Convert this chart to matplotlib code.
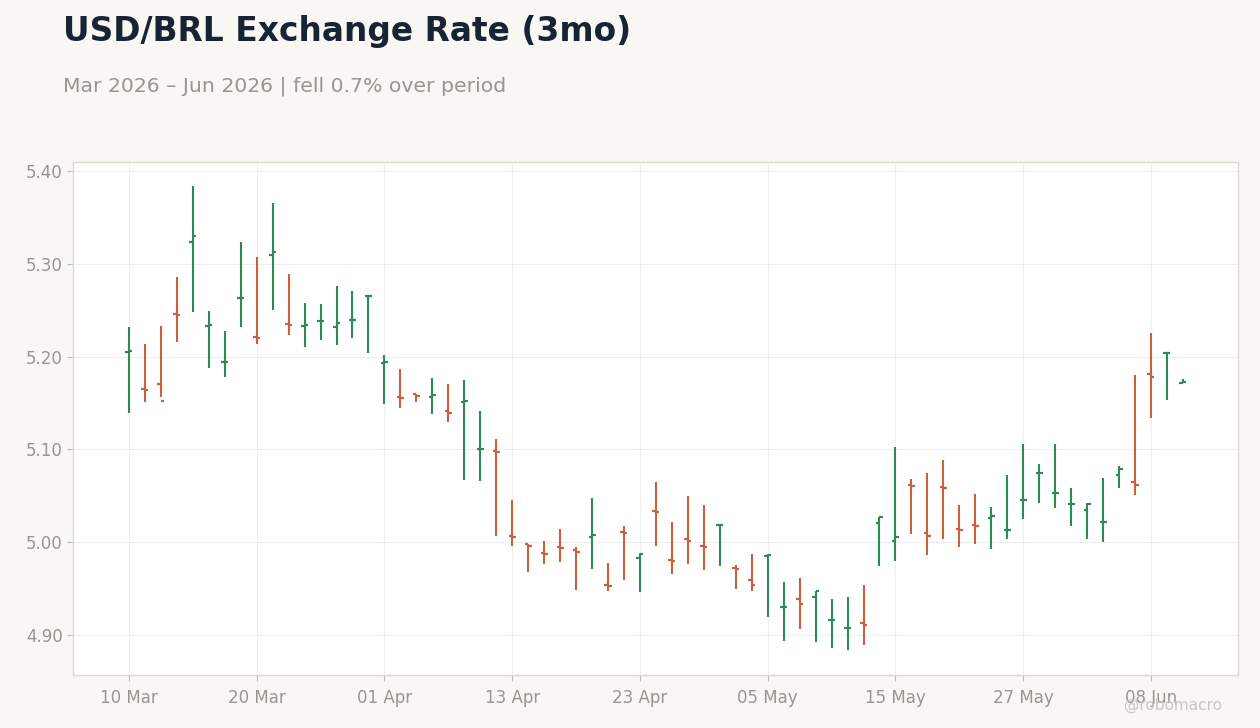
import pandas as pd
import matplotlib.pyplot as plt
import numpy as np

# daily OHLC, USD/BRL, business days 10 Mar - 10 Jun 2026
opens = [5.205, 5.165, 5.170, 5.246, 5.323, 5.233, 5.194, 5.263, 5.221, 5.309,
         5.235, 5.233, 5.238, 5.232, 5.239, 5.265, 5.193, 5.156, 5.160, 5.157,
         5.141, 5.151, 5.100, 5.098, 5.007, 4.998, 4.988, 4.995, 4.992, 5.006,
         4.954, 5.011, 4.983, 5.034, 4.981, 5.003, 4.996, 5.019, 4.972, 4.959,
         4.985, 4.930, 4.939, 4.941, 4.916, 4.908, 4.913, 5.021, 5.001, 5.062,
         5.010, 5.060, 5.014, 5.019, 5.026, 5.013, 5.046, 5.075, 5.053, 5.041,
         5.035, 5.022, 5.073, 5.065, 5.181, 5.204, 5.172]
highs = [5.232, 5.214, 5.233, 5.286, 5.384, 5.249, 5.228, 5.324, 5.307, 5.366,
         5.289, 5.258, 5.257, 5.276, 5.271, 5.266, 5.202, 5.187, 5.160, 5.177,
         5.171, 5.175, 5.141, 5.111, 5.046, 4.998, 5.001, 5.014, 4.995, 5.048,
         4.978, 5.018, 4.988, 5.065, 5.022, 5.050, 5.040, 5.020, 4.975, 4.987,
         4.987, 4.957, 4.961, 4.948, 4.939, 4.941, 4.954, 5.027, 5.103, 5.068,
         5.075, 5.089, 5.040, 5.052, 5.038, 5.073, 5.106, 5.084, 5.106, 5.058,
         5.042, 5.069, 5.082, 5.180, 5.226, 5.204, 5.176]
lows = [5.139, 5.151, 5.157, 5.216, 5.248, 5.188, 5.178, 5.232, 5.214, 5.250,
        5.223, 5.210, 5.218, 5.213, 5.220, 5.204, 5.149, 5.145, 5.151, 5.138,
        5.130, 5.067, 5.066, 5.007, 4.996, 4.968, 4.977, 4.979, 4.949, 4.971,
        4.948, 4.959, 4.946, 4.996, 4.966, 4.977, 4.970, 4.974, 4.950, 4.947,
        4.920, 4.894, 4.907, 4.893, 4.886, 4.884, 4.889, 4.974, 4.980, 5.009,
        4.986, 5.004, 4.995, 4.998, 4.993, 5.004, 5.025, 5.042, 5.037, 5.018,
        5.004, 5.000, 5.058, 5.051, 5.134, 5.153, 5.172]
closes = [5.206, 5.164, 5.152, 5.245, 5.330, 5.234, 5.194, 5.263, 5.220, 5.313,
          5.234, 5.234, 5.238, 5.236, 5.239, 5.265, 5.194, 5.155, 5.158, 5.159,
          5.139, 5.152, 5.101, 5.097, 5.006, 4.996, 4.987, 4.994, 4.989, 5.008,
          4.953, 5.010, 4.987, 5.033, 4.980, 5.001, 4.995, 5.019, 4.971, 4.954,
          4.986, 4.930, 4.934, 4.947, 4.916, 4.908, 4.911, 5.027, 5.006, 5.061,
          5.007, 5.059, 5.013, 5.018, 5.028, 5.013, 5.046, 5.075, 5.053, 5.041,
          5.041, 5.022, 5.079, 5.062, 5.178, 5.204, 5.173]

dates = pd.bdate_range("2026-03-10", periods=len(opens))
tick_every = 8

up_col = "#2e8b57"
down_col = "#c8623d"

fig = plt.figure(figsize=(12.6, 7.28), dpi=100, facecolor="#f8f7f4")
ax = fig.add_axes([73 / 1260, 1 - 675 / 728, (1238 - 73) / 1260, (675 - 162) / 728])
ax.set_facecolor("white")

x = np.arange(len(opens))
o = np.array(opens)
c = np.array(closes)
cols = [up_col if cc >= oo else down_col for oo, cc in zip(o, c)]

ax.vlines(x, lows, highs, colors=cols, lw=1.5, zorder=3)
ax.hlines(o, x - 0.22, x, colors=cols, lw=1.6, zorder=3)
ax.hlines(c, x, x + 0.22, colors=cols, lw=1.6, zorder=3)

ax.set_xlim(-3.5, 69.45)
ax.set_ylim(4.857, 5.4097)
ax.set_yticks([4.90, 5.00, 5.10, 5.20, 5.30, 5.40])
ax.yaxis.set_major_formatter(plt.FuncFormatter(lambda v, p: f"{v:.2f}"))
ticks = x[::tick_every]
ax.set_xticks(ticks)
ax.set_xticklabels([dates[i].strftime("%d %b") for i in ticks])

ax.grid(True, color="#eeeeee", lw=0.8, zorder=0)
ax.set_axisbelow(True)
for s in ax.spines.values():
    s.set_color("#ddd8d0")
    s.set_linewidth(1)
ax.tick_params(colors="#999590", labelsize=12, length=4, width=0.8)
ax.tick_params(axis="both", color="#bbbbbb")
ax.tick_params(axis="x", pad=6)

fig.text(63 / 1260, 1 - 31.5 / 728, "USD/BRL Exchange Rate (3mo)", fontsize=23.7,
         fontweight="bold", color="#1a2332", va="center", ha="left")
fig.text(63 / 1260, 1 - 86 / 728, "Mar 2026 \u2013 Jun 2026 | fell 0.7% over period",
         fontsize=14.7, color="#999590", va="center", ha="left")
fig.text(1222 / 1260, 1 - 705 / 728, "@robomacro", fontsize=11, color="#c8c5c0",
         va="center", ha="right")

fig.savefig("out.png", dpi=100, facecolor=fig.get_facecolor())
